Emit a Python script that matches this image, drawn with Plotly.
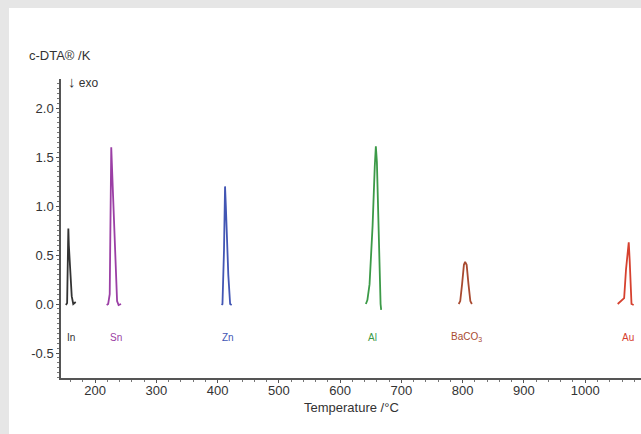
import plotly.graph_objects as go

# ---- data ----
in_T = [152.5, 154.5, 156.0, 156.5, 157.3, 162.0, 164.5, 168.5]
in_y = [-0.01, 0.01, 0.60, 0.77, 0.60, 0.08, 0.0, 0.02]

sn_T = [219.0, 221.5, 224.0, 225.5, 226.5, 229.5, 233.5, 236.0, 238.5, 242.5]
sn_y = [-0.01, 0.0, 0.10, 1.30, 1.60, 1.10, 0.30, 0.03, -0.01, 0.0]

zn_T = [406.5, 408.0, 410.5, 411.5, 412.2, 413.5, 417.5, 420.5, 423.0]
zn_y = [-0.01, 0.0, 0.55, 1.05, 1.20, 1.00, 0.30, 0.0, -0.01]

al_T = [642.0, 644.5, 648.0, 653.0, 656.5, 658.3, 660.0, 662.5, 664.5, 666.0, 667.0]
al_y = [0.0, 0.04, 0.20, 0.80, 1.40, 1.61, 1.45, 0.80, 0.20, 0.0, -0.06]

ba_T = [793.5, 796.0, 799.0, 802.0, 804.0, 806.5, 809.5, 812.5, 815.0]
ba_y = [0.0, 0.03, 0.20, 0.40, 0.43, 0.40, 0.20, 0.03, 0.0]

au_T = [1053.0, 1057.0, 1063.5, 1066.5, 1069.5, 1071.0, 1072.5, 1074.0, 1075.5, 1079.0]
au_y = [0.0, 0.02, 0.06, 0.35, 0.60, 0.63, 0.45, 0.15, 0.0, -0.01]

sample_names = ["In", "Sn", "Zn", "Al", "BaCO<sub>3</sub>", "Au"]
label_T = [161, 235, 417, 653, 807, 1070]
label_y = -0.34
colors = ["#333333", "#9b3fa5", "#4256b4", "#3c9a48", "#a84a30", "#d6412f"]

x_ticks = [200, 300, 400, 500, 600, 700, 800, 900, 1000]
y_ticks = [-0.5, 0.0, 0.5, 1.0, 1.5, 2.0]
y_tick_text = ["-0.5", "0.0", "0.5", "1.0", "1.5", "2.0"]

series = [(in_T, in_y), (sn_T, sn_y), (zn_T, zn_y), (al_T, al_y), (ba_T, ba_y), (au_T, au_y)]

FONT = "Liberation Sans, Arial"
TXT = "#333333"

fig = go.Figure()
for (T, y), c in zip(series, colors):
    fig.add_trace(go.Scatter(x=T, y=y, mode="lines", line=dict(color=c, width=1.8),
                             showlegend=False, hoverinfo="skip"))

for name, t, c in zip(sample_names, label_T, colors):
    fig.add_annotation(x=t, y=label_y, text=name, showarrow=False,
                       font=dict(size=10, color=c, family=FONT))

W, H = 641, 434
L, R, T0, B = 61, 0, 79, 56
pw, ph = W - L - R, H - T0 - B

def px(xp):
    return (xp - L) / pw

def py(yp):
    return (H - B - yp) / ph

# gray frame strips (top and left)
fig.add_shape(type="rect", xref="paper", yref="paper", x0=px(0), x1=px(W), y0=py(8), y1=py(0),
              fillcolor="#e6e6e6", line=dict(width=0), layer="below")
fig.add_shape(type="rect", xref="paper", yref="paper", x0=px(0), x1=px(9), y0=py(H), y1=py(0),
              fillcolor="#e6e6e6", line=dict(width=0), layer="below")

fig.add_annotation(xref="paper", yref="paper", x=px(27), y=py(55), xanchor="left", yanchor="middle",
                   text="c-DTA® /K", showarrow=False,
                   font=dict(size=13, color=TXT, family=FONT))
fig.add_annotation(xref="paper", yref="paper", x=px(66), y=py(81), xanchor="left", yanchor="middle",
                   text="<span style='font-size:15px'>↓</span> exo", showarrow=False,
                   font=dict(size=12, color=TXT, family=FONT))
fig.add_annotation(xref="paper", yref="paper", x=px(351), y=py(407), xanchor="center", yanchor="middle",
                   text="Temperature /°C", showarrow=False,
                   font=dict(size=13, color=TXT, family=FONT))

axis_common = dict(showline=True, linecolor="#555555", linewidth=1.5, ticks="outside",
                   tickcolor="#555555", tickwidth=1.2, showgrid=False, zeroline=False,
                   tickfont=dict(size=13, color=TXT, family=FONT))

fig.update_xaxes(range=[144.5, 1091], tickvals=x_ticks, ticklen=3, ticklabelstandoff=-3,
                 minor=dict(dtick=20, tick0=0, ticklen=2, ticks="outside", tickcolor="#777777", showgrid=False),
                 **axis_common)
fig.update_yaxes(range=[-0.755, 2.296], tickvals=y_ticks, ticktext=y_tick_text, ticklen=3,
                 minor=dict(dtick=0.05, tick0=0, ticklen=2, ticks="outside", tickcolor="#777777", showgrid=False),
                 **axis_common)

fig.update_layout(width=W, height=H, margin=dict(l=L, r=R, t=T0, b=B, pad=0),
                  paper_bgcolor="white", plot_bgcolor="white",
                  font=dict(family=FONT, color=TXT))

fig.write_html("out.html")
